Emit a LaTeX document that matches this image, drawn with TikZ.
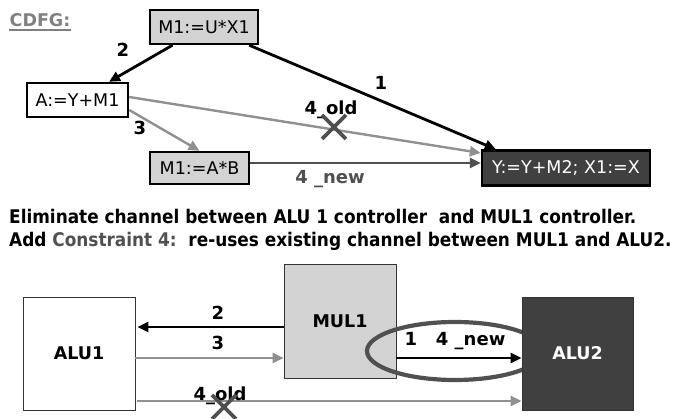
\documentclass[tikz,border=0pt]{standalone}
\usepackage{fontspec}
\setmainfont{DejaVu Sans}
\newfontfamily\condbf{DejaVu Sans Condensed Bold}
\usetikzlibrary{arrows.meta,calc}
\definecolor{boxlight}{HTML}{D3D3D3}
\definecolor{boxdark}{HTML}{404040}
\definecolor{chgray}{HTML}{909090}
\definecolor{darkline}{HTML}{505050}
\definecolor{headgray}{HTML}{808080}
\tikzset{
  x=1pt, y=-1pt,
  op/.style={draw=black, line width=2.4pt, fill=boxlight, inner sep=0pt,
    font=\fontsize{17.5}{19}\selectfont},
  opdark/.style={op, fill=boxdark, text=white},
  unit/.style={draw=black!80, line width=0.8pt, inner sep=0pt,
    font=\bfseries\fontsize{17.5}{19}\selectfont},
  lbl/.style={font=\bfseries\fontsize{18}{19}\selectfont, inner sep=0pt},
  tip/.style={-{Triangle[length=11pt,width=10pt]}},
  blackch/.style={tip, draw=black, line width=2.8pt},
  graych/.style={tip, draw=chgray, line width=2.4pt},
  newch/.style={tip, draw=darkline, line width=2.8pt},
  cross/.style={draw=darkline, line width=3.8pt},
}
\begin{document}
\begin{tikzpicture}
\useasboundingbox (0,0) rectangle (681,419);

% ---------- CDFG ----------
\node[font=\bfseries\fontsize{17.5}{19}\selectfont, text=headgray, inner sep=0pt] (cdfg) at (40,20) {CDFG:};
\draw[headgray, line width=2pt] ($(cdfg.south west)+(0,3)$) -- ($(cdfg.south east)+(0,3)$);

\node[op, minimum width=108pt, minimum height=34pt] (mux) at (204,27) {M1:=U*X1};
\node[op, fill=white, minimum width=101pt, minimum height=34pt] (ay) at (77.5,100) {A:=Y+M1};
\node[op, minimum width=99pt, minimum height=32pt] (mab) at (199.5,168) {M1:=A*B};
\node[opdark, minimum width=168pt, minimum height=35pt] (yb) at (566,168) {Y:=Y+M2; X1:=X};

\draw[blackch] (mux) -- (ay);
\draw[blackch] ($(mux.south east)+(-10,0)$) -- ($(yb.north west)+(15,0)$);
\draw[graych] ($(ay.east)+(0,-3)$) -- ($(yb.west)+(0,-15)$);
\draw[graych] ($(ay.east)+(0,10)$) -- (mab.north);
\draw[newch] ($(mab.east)+(0,-5)$) -- ($(yb.west)+(0,-5)$);

\node[lbl] (l2) at (123,50) {2};
\node[lbl] (l1) at (381,83) {1};
\node[lbl] (l3) at (140,128) {3};
\node[lbl] (lold) at (331,110) {4\_old};
\node[lbl, text=darkline] (lnew) at (330,179) {4 \_new};
\coordinate (xa) at (334,127);
\draw[cross] ($(xa)+(-12,-12)$) -- ($(xa)+(12,12)$) ($(xa)+(-12,12)$) -- ($(xa)+(12,-12)$);

% ---------- statement ----------
\node[anchor=west, inner sep=0pt, font=\condbf\fontsize{18.8}{20}\selectfont] (s1) at (9,216)
  {Eliminate channel between ALU 1 controller\ \ and MUL1 controller.};
\node[anchor=west, inner sep=0pt, font=\condbf\fontsize{18.8}{20}\selectfont] (s2) at (9,241)
  {Add \textcolor{darkline}{Constraint 4:}\ \ re-uses existing channel between MUL1 and ALU2.};

% ---------- controllers ----------
\node[unit, minimum width=112pt, minimum height=113pt] (alu1) at (79,353.5) {ALU1};
\node[unit, fill=boxlight, minimum width=112pt, minimum height=114pt] (mul1) at (340,321) {MUL1};
\draw[darkline, line width=4.2pt] (455,351) ellipse [x radius=88, y radius=29];
\node[unit, fill=boxdark, text=white, minimum width=111pt, minimum height=113pt] (alu2) at (577.5,353.5) {ALU2};

\draw[blackch] ($(mul1.west)+(0,6)$) -- ($(alu1.east)+(2,-26.5)$);
\draw[graych] ($(alu1.east)+(0,4.5)$) -- ($(mul1.west)+(0,37)$);
\draw[blackch] ($(mul1.east)+(0,37)$) -- ($(alu2.west)+(0,4.5)$);
\draw[graych] ($(alu1.east)+(2,47.5)$) -- ($(alu2.west)+(0,47.5)$);

\node[lbl] (b2) at (218,313) {2};
\node[lbl] (b3) at (218,343) {3};
\node[lbl] (bold) at (220,396) {4\_old};
\node[lbl] (bnew) at (455,341) {1\ \ \ 4 \_new};
\coordinate (xb) at (224,407);
\draw[cross] ($(xb)+(-12,-12)$) -- ($(xb)+(12,12)$) ($(xb)+(-12,12)$) -- ($(xb)+(12,-12)$);
\end{tikzpicture}
\end{document}
